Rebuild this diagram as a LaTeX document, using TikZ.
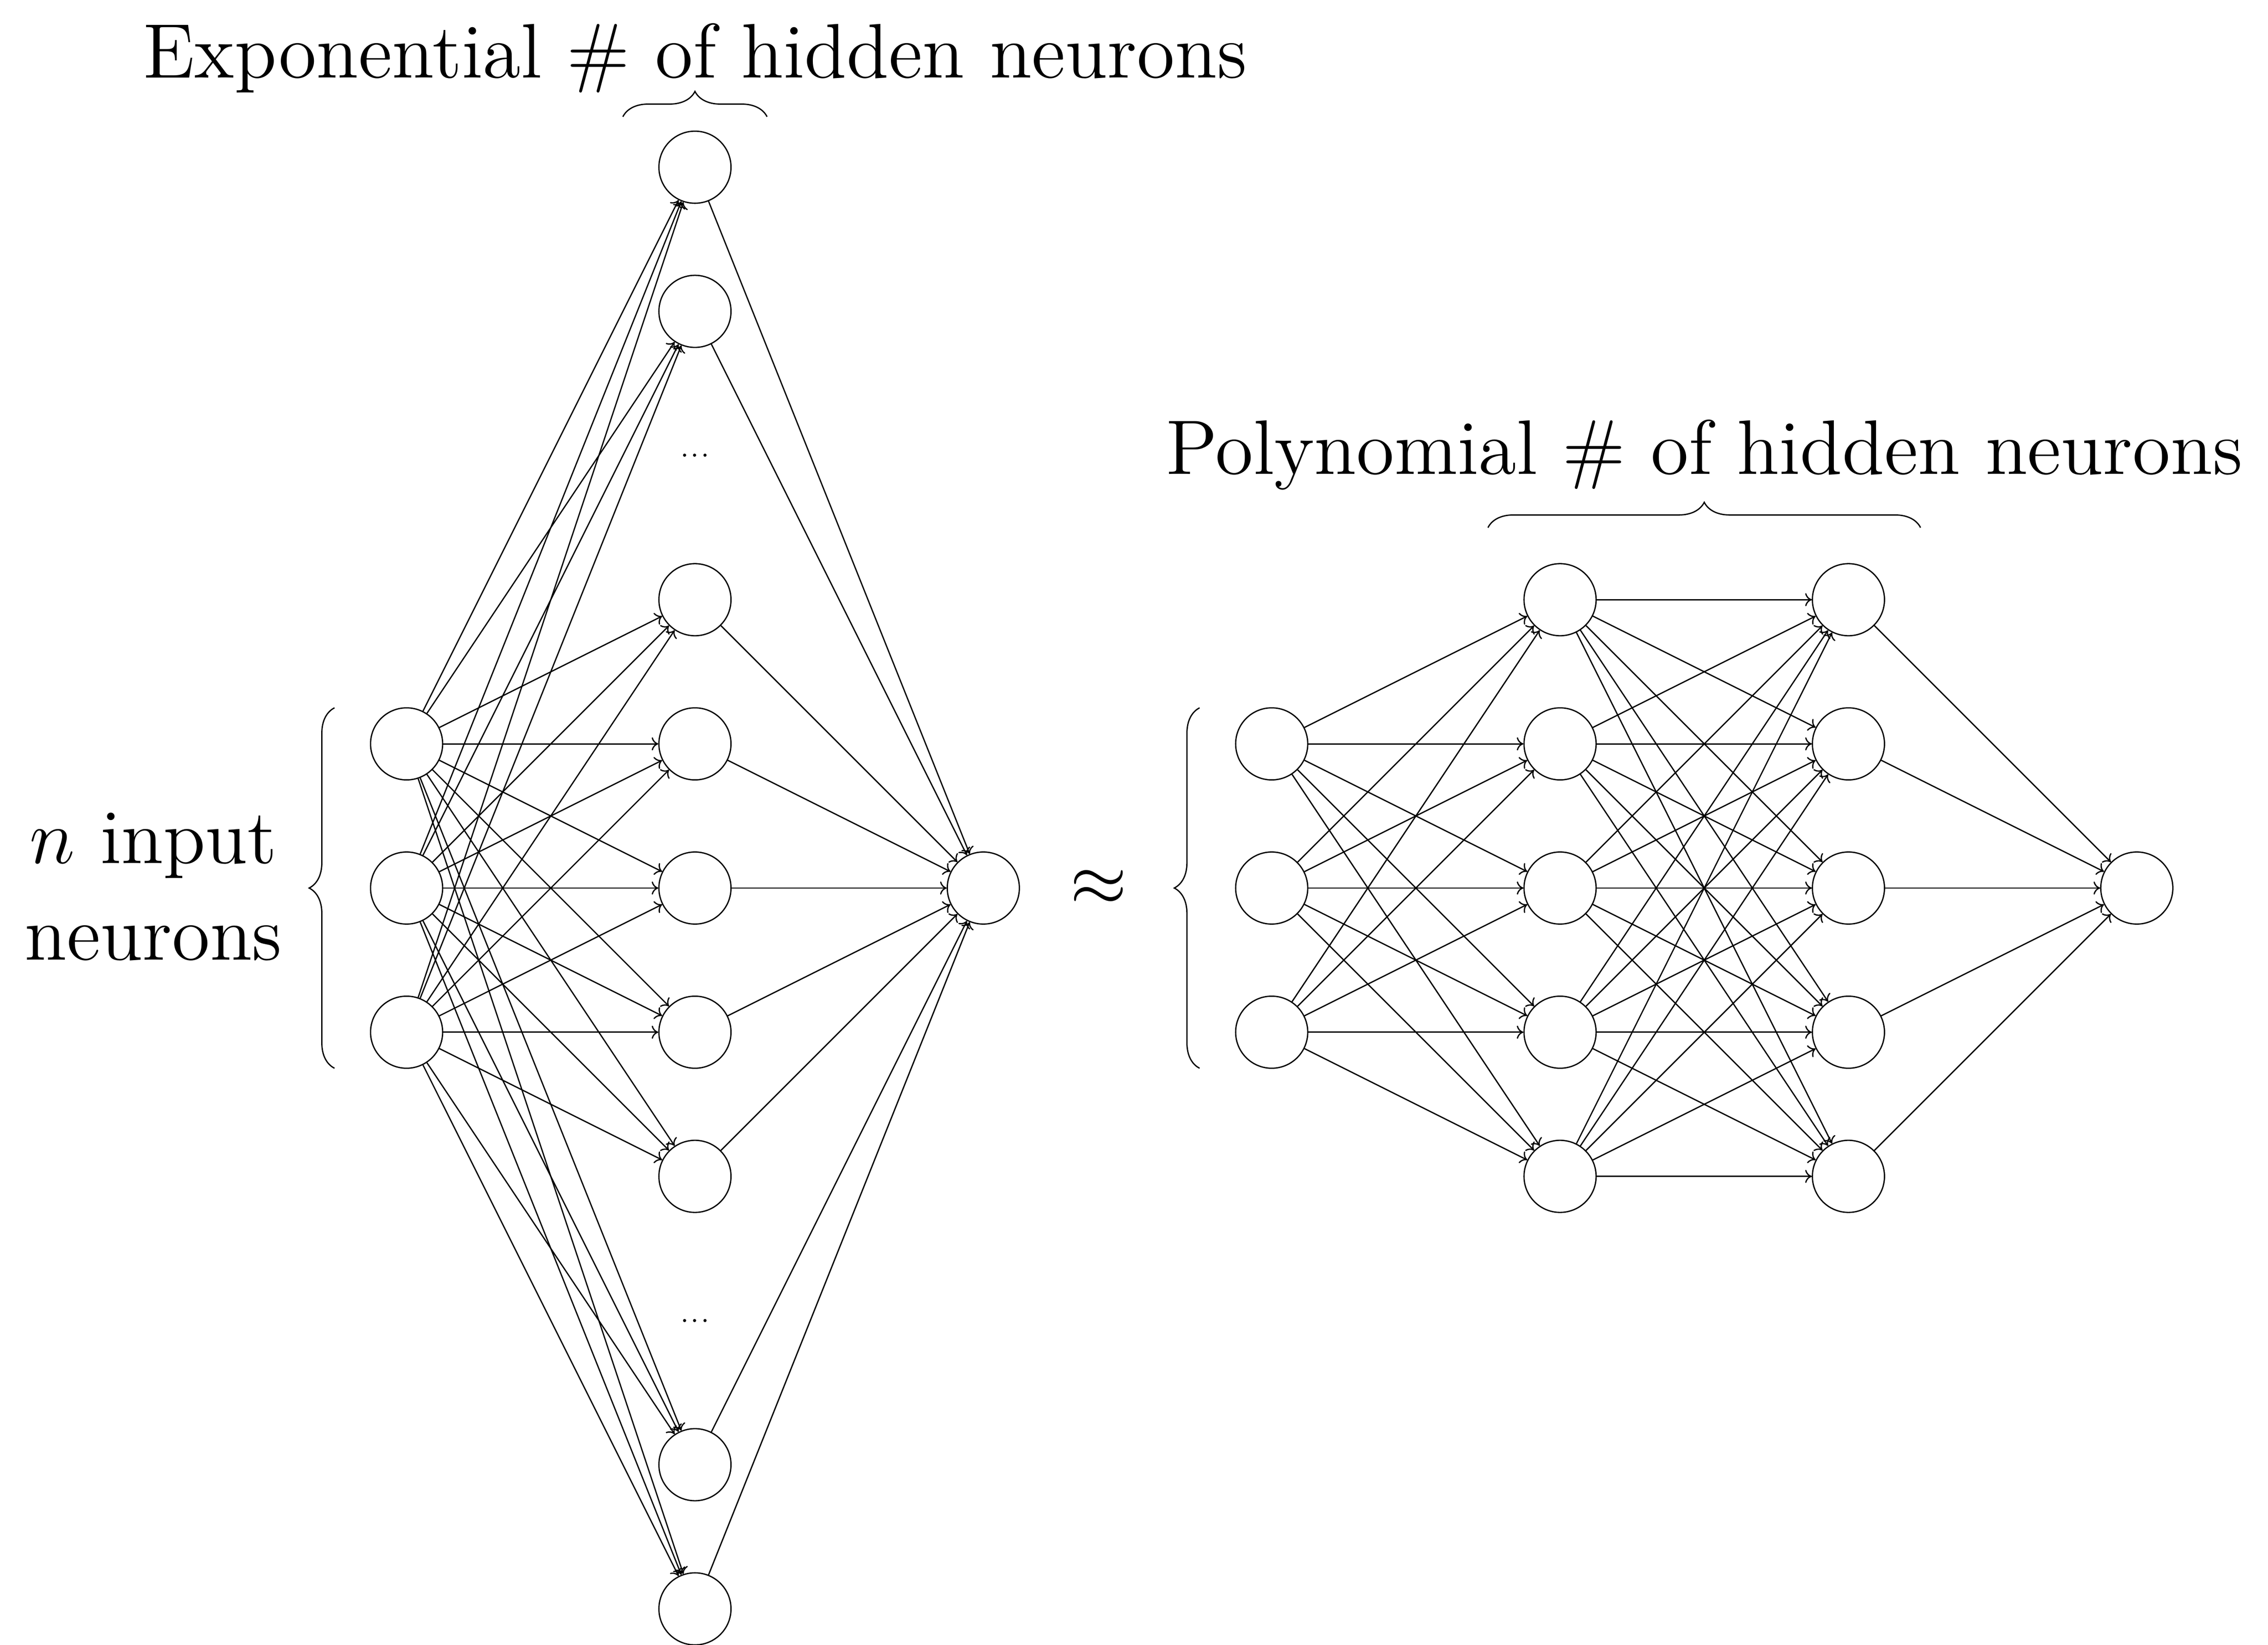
\documentclass[tikz,border=0pt]{standalone}
\usepackage{tikz}
\usetikzlibrary{arrows.meta}
\usetikzlibrary{decorations.pathreplacing}
\usetikzlibrary{positioning}
\tikzset{>={To[length=1.3pt,width=2.6pt]},
  neuron/.style={circle,draw,line width=0.25pt,minimum size=0.5cm,inner sep=0pt},
  synapse/.style={->,line width=0.25pt},
  curly/.style={decorate,decoration={brace,amplitude=5pt},line width=0.25pt},
  caption/.style={font=\Large}}
\newcommand{\biglabel}[1]{\scalebox{1.06}{#1}}

\begin{document}
\begin{tikzpicture}
    \useasboundingbox (-2.82,-5.25) rectangle (12.91,6.16);

    % exponential width
    \foreach \i in {1,2,3}
        \node[neuron] (I\i) at (0,2-\i) {};
    \foreach \y [count=\k] in {5,4,2,1,0,-1,-2,-4,-5}
        \node[neuron] (H\k) at (2,\y) {};
    \node[neuron] (O) at (4,0) {};
    \node[font=\tiny] (dotsup) at (2,3) {...};
    \node[font=\tiny] (dotsdown) at (2,-3) {...};

    \foreach \i in {1,2,3}
        \foreach \k in {1,...,9}
            \draw[synapse] (I\i) -- (H\k);
    \foreach \k in {1,...,9}
        \draw[synapse] (H\k) -- (O);

    % polynomial width
    \foreach \i in {1,2,3}
        \node[neuron] (P\i) at (6,2-\i) {};
    \foreach \k in {1,...,5} {
        \node[neuron] (A\k) at (8,3-\k) {};
        \node[neuron] (B\k) at (10,3-\k) {};
    }
    \node[neuron] (Q) at (12,0) {};

    \foreach \i in {1,2,3}
        \foreach \k in {1,...,5}
            \draw[synapse] (P\i) -- (A\k);
    \foreach \k in {1,...,5}
        \foreach \l in {1,...,5}
            \draw[synapse] (A\k) -- (B\l);
    \foreach \l in {1,...,5}
        \draw[synapse] (B\l) -- (Q);

    % braces and labels
    \draw[curly] (-0.5,-1.25) -- (-0.5,1.25);
    \draw[curly] (5.5,-1.25) -- (5.5,1.25);
    \draw[curly] (1.5,5.35) -- (2.5,5.35);
    \draw[curly] (7.5,2.5) -- (10.5,2.5);

    \node[caption,anchor=base] (expo) at (2,5.62) {\biglabel{Exponential \# of hidden neurons}};
    \node[caption,anchor=base] (poly) at (9,2.87) {\biglabel{Polynomial \# of hidden neurons}};
    \node[caption,anchor=east] (inputs) at (-0.74,-0.03)
        {\biglabel{\begin{tabular}{@{}c@{}}$n$ input\\neurons\end{tabular}}};
    \node[caption] (approx) at (4.8,0) {$\approx$};

\end{tikzpicture}
\end{document}
